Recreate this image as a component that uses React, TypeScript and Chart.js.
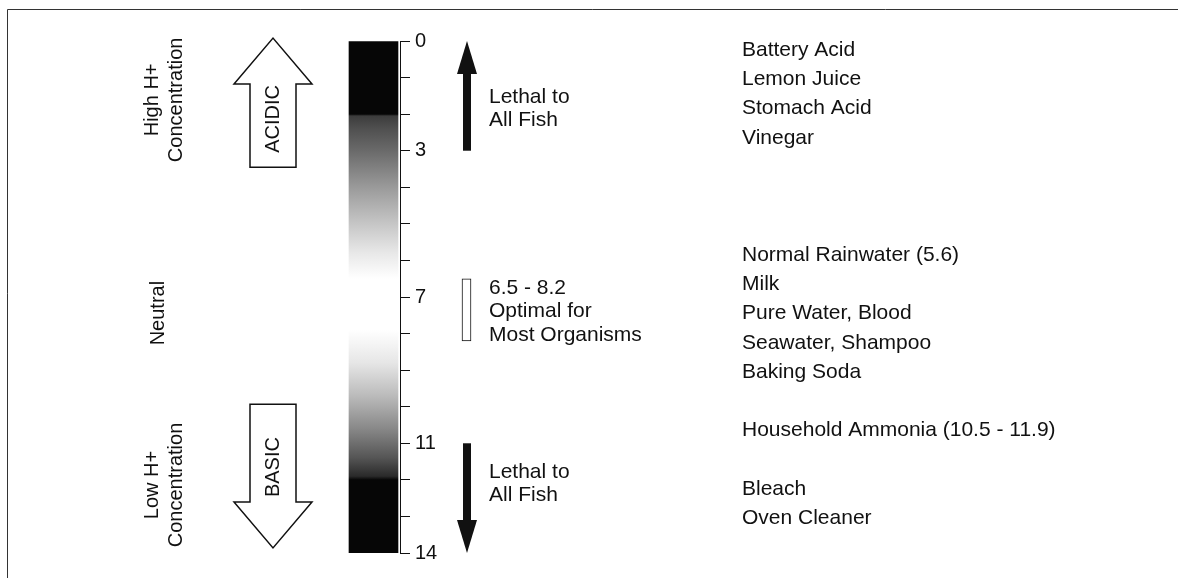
import React, { useEffect, useRef } from 'react';
import { Chart, registerables } from 'chart.js';

Chart.register(...registerables);

// ---------------- data ----------------
const PH_MIN = 0;
const PH_MAX = 14;
const PH_TICK_LABELS = [0, 3, 7, 11, 14];

// grey level of the pH colour bar along the scale
const GRADIENT_PH = [0, 2, 2.05, 2.4, 3, 4, 5, 5.8, 6.5, 7.9, 8.8, 9.7, 10.6, 11.4, 11.9, 12, 14];
const GRADIENT_GREY = [6, 6, 60, 80, 106, 154, 198, 232, 255, 255, 230, 187, 136, 85, 42, 6, 6];

const OPTIMAL_RANGE = [6.5, 8.2];
const OPTIMAL_LABEL = ['6.5 - 8.2', 'Optimal for', 'Most Organisms'];
const OPTIMAL_LABEL_PH = 7.4;

// [tail, tip]
const LETHAL_RANGES = [
  [3, 0],
  [11, 14],
];
const LETHAL_LABEL = ['Lethal to', 'All Fish'];
const LETHAL_LABEL_PH = [1.84, 12.1];

const SUBSTANCES = [
  'Battery Acid',
  'Lemon Juice',
  'Stomach Acid',
  'Vinegar',
  'Normal Rainwater (5.6)',
  'Milk',
  'Pure Water, Blood',
  'Seawater, Shampoo',
  'Baking Soda',
  'Household Ammonia (10.5 - 11.9)',
  'Bleach',
  'Oven Cleaner',
];
const SUBSTANCE_PH = [0.25, 1.05, 1.85, 2.65, 5.85, 6.65, 7.45, 8.25, 9.05, 10.65, 12.25, 13.05];

const SIDE_LABELS = [['High H+', 'Concentration'], ['Neutral'], ['Low H+', 'Concentration']];
const SIDE_LABEL_PH = [1.61, 7.44, 12.14];

const DIRECTION_LABELS = ['ACIDIC', 'BASIC'];
// [tail, tip]
const DIRECTION_RANGES = [
  [3.45, -0.08],
  [9.93, 13.86],
];
const DIRECTION_LABEL_PH = [2.13, 11.65];

// ---------------- layout (pixels) ----------------
const W = 1178;
const H = 578;
const FONT = '"Liberation Sans", Arial, Helvetica, sans-serif';
const SIDE_X = [164.7, 158.3, 164.7];
const DIR_X = 273;
const BAR_X = 373.5;
const AXIS_X = 400;
const MARK_X = 467;
const NOTE_X = 489;
const LIST_X = 742;

function drawLines(ctx: CanvasRenderingContext2D, lines: string[], x: number, y: number, lh: number) {
  const n = lines.length;
  lines.forEach((t, i) => ctx.fillText(t, x, y + (i - (n - 1) / 2) * lh));
}

const overlay = {
  id: 'phOverlay',
  beforeDraw(chart: any) {
    const ctx: CanvasRenderingContext2D = chart.ctx;
    ctx.save();
    ctx.fillStyle = '#ffffff';
    ctx.fillRect(0, 0, chart.width, chart.height);
    ctx.strokeStyle = '#333333';
    ctx.lineWidth = 1;
    ctx.beginPath();
    ctx.moveTo(7.5, H);
    ctx.lineTo(7.5, 9.5);
    ctx.lineTo(W, 9.5);
    ctx.stroke();
    ctx.restore();
  },
  afterDraw(chart: any) {
    const ctx: CanvasRenderingContext2D = chart.ctx;
    const y = chart.scales.y;
    const x = chart.scales.x;
    const py = (v: number) => y.getPixelForValue(v);
    const px = (v: number) => x.getPixelForValue(v);
    ctx.save();
    ctx.fillStyle = '#111111';
    ctx.strokeStyle = '#111111';
    ctx.textBaseline = 'middle';

    // tick labels from the scale's own ticks
    ctx.font = `20px ${FONT}`;
    ctx.textAlign = 'left';
    y.ticks.forEach((t: any) => {
      if (PH_TICK_LABELS.includes(t.value)) ctx.fillText(String(t.value), px(AXIS_X) + 15, py(t.value));
    });

    // lethal arrows
    const headLen = 33;
    const mx = px(MARK_X);
    LETHAL_RANGES.forEach(([tail, tip]) => {
      const y0 = py(tail);
      const y1 = py(tip);
      const dir = Math.sign(y1 - y0);
      const yb = y1 - dir * headLen;
      ctx.fillRect(mx - 4, Math.min(y0, yb), 8, Math.abs(yb - y0));
      ctx.beginPath();
      ctx.moveTo(mx - 10, yb);
      ctx.lineTo(mx + 10, yb);
      ctx.lineTo(mx, y1);
      ctx.closePath();
      ctx.fill();
    });

    // hollow direction arrows
    const dx = px(DIR_X);
    DIRECTION_RANGES.forEach(([tail, tip], i) => {
      const y0 = py(tail);
      const y1 = py(tip);
      const dir = Math.sign(y1 - y0);
      const yb = y1 - dir * 46;
      ctx.beginPath();
      ctx.moveTo(dx - 23, y0);
      ctx.lineTo(dx + 23, y0);
      ctx.lineTo(dx + 23, yb);
      ctx.lineTo(dx + 39, yb);
      ctx.lineTo(dx, y1);
      ctx.lineTo(dx - 39, yb);
      ctx.lineTo(dx - 23, yb);
      ctx.closePath();
      ctx.fillStyle = '#ffffff';
      ctx.fill();
      ctx.lineWidth = 1.5;
      ctx.stroke();
      ctx.fillStyle = '#111111';
      ctx.save();
      ctx.translate(dx, py(DIRECTION_LABEL_PH[i]));
      ctx.rotate(-Math.PI / 2);
      ctx.textAlign = 'center';
      ctx.font = `20px ${FONT}`;
      ctx.fillText(DIRECTION_LABELS[i], 0, 0);
      ctx.restore();
    });

    // side labels (rotated)
    SIDE_LABELS.forEach((lines, i) => {
      ctx.save();
      ctx.translate(px(SIDE_X[i]), py(SIDE_LABEL_PH[i]));
      ctx.rotate(-Math.PI / 2);
      ctx.textAlign = 'center';
      ctx.font = `20px ${FONT}`;
      drawLines(ctx, lines, 0, 0, 24);
      ctx.restore();
    });

    // notes next to the marks
    ctx.font = `21px ${FONT}`;
    ctx.textAlign = 'left';
    LETHAL_LABEL_PH.forEach((p) => drawLines(ctx, LETHAL_LABEL, px(NOTE_X), py(p), 23));
    drawLines(ctx, OPTIMAL_LABEL, px(NOTE_X), py(OPTIMAL_LABEL_PH), 23.3);

    // substances list
    SUBSTANCES.forEach((s, i) => ctx.fillText(s, px(LIST_X), py(SUBSTANCE_PH[i])));
    ctx.restore();
  },
};

export default function App() {
  const ref = useRef<HTMLCanvasElement | null>(null);
  useEffect(() => {
    document.body.style.margin = '0';
    const canvas = ref.current!;
    const gradientFill = (c: any) => {
      const chart = c.chart;
      const ys = chart.scales && chart.scales.y;
      if (!chart.chartArea || !ys) return '#060606';
      const top = ys.getPixelForValue(PH_MIN);
      const bottom = ys.getPixelForValue(PH_MAX);
      const g = chart.ctx.createLinearGradient(0, top, 0, bottom);
      GRADIENT_PH.forEach((p, i) => {
        const v = GRADIENT_GREY[i];
        g.addColorStop((p - PH_MIN) / (PH_MAX - PH_MIN), `rgb(${v},${v},${v})`);
      });
      return g;
    };
    const chart = new Chart(canvas, {
      type: 'bar',
      data: {
        datasets: [
          {
            label: 'pH scale',
            data: [{ x: BAR_X, y: [PH_MIN, PH_MAX] }] as any,
            backgroundColor: gradientFill as any,
            borderWidth: 0,
            barThickness: 49,
            grouped: false,
          },
          {
            label: 'Optimal',
            data: [{ x: MARK_X - 0.5, y: OPTIMAL_RANGE }] as any,
            backgroundColor: '#ffffff',
            borderColor: '#111111',
            borderWidth: 1,
            borderSkipped: false,
            barThickness: 9,
            grouped: false,
          },
        ],
      },
      options: {
        responsive: false,
        animation: false,
        events: [],
        layout: { padding: { left: 0, right: 0, top: 41, bottom: H - 553 } },
        plugins: { legend: { display: false }, tooltip: { enabled: false } },
        scales: {
          x: { type: 'linear', min: 0, max: W, offset: false, display: false, grid: { offset: false } },
          y: {
            type: 'linear',
            min: PH_MIN,
            max: PH_MAX,
            reverse: true,
            position: { x: AXIS_X } as any,
            ticks: { stepSize: 1, display: false },
            grid: { drawOnChartArea: false, drawTicks: true, tickLength: -10, color: '#111111', lineWidth: 1 },
            border: { display: true, color: '#111111', width: 1 },
          },
        },
      },
      plugins: [overlay],
    });
    return () => chart.destroy();
  }, []);
  return (
    <div style={{ width: W, height: H }}>
      <canvas ref={ref} width={W} height={H} style={{ display: 'block', width: W, height: H }} />
    </div>
  );
}
